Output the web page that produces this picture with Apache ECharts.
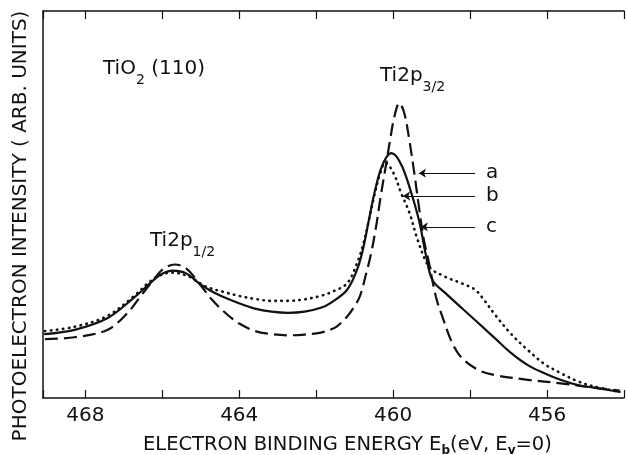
<!DOCTYPE html>
<html>
<head>
<meta charset="utf-8">
<script src="https://cdn.jsdelivr.net/npm/echarts@6/dist/echarts.min.js"></script>
<style>
html, body { margin: 0; padding: 0; background: #fff; }
#chart { width: 627px; height: 455px; }
</style>
</head>
<body>
<div id="chart"></div>
<script>
// [binding energy (eV), intensity (arb. units, 0 = frame bottom, 100 = frame top)]
const curveA = [ // dashed
    [469.05, 15.2], [468.28, 15.7], [467.43, 17.6], [466.91, 21.9], [466.57, 26.2], [466.23, 30.5],
    [465.98, 33.3], [465.68, 34.5], [465.38, 33.5], [465.04, 29.6], [464.70, 25.3], [464.35, 21.9],
    [464.01, 19.3], [463.59, 17.3], [463.16, 16.5], [462.73, 16.2], [462.30, 16.4], [461.88, 16.9],
    [461.62, 17.7], [461.45, 18.6], [461.20, 21.0], [461.03, 23.3], [460.86, 26.4], [460.71, 31.8],
    [460.58, 37.0], [460.45, 43.9], [460.33, 51.7], [460.20, 59.4], [460.07, 67.2], [459.97, 72.6],
    [459.84, 76.2], [459.71, 73.6], [459.58, 66.7], [459.45, 58.1], [459.33, 49.4], [459.20, 40.8],
    [459.08, 35.5], [458.89, 26.2], [458.72, 21.0], [458.46, 14.1], [458.21, 10.3], [457.78, 7.2],
    [457.35, 5.9], [456.50, 4.7], [455.65, 3.8], [454.97, 2.9], [454.11, 1.9]
]
const curveB = [ // dotted
    [469.05, 17.3], [468.28, 18.4], [467.43, 21.2], [466.75, 26.2], [466.32, 30.1], [465.98, 32.0],
    [465.72, 32.4], [465.29, 31.3], [464.87, 28.8], [464.44, 27.5], [464.01, 26.4], [463.59, 25.6],
    [463.16, 25.1], [462.73, 25.1], [462.30, 25.5], [461.88, 26.4], [461.62, 27.3], [461.20, 29.6],
    [460.94, 34.8], [460.77, 40.0], [460.63, 46.0], [460.48, 52.7], [460.35, 57.6], [460.20, 60.8],
    [459.99, 58.1], [459.79, 52.9], [459.57, 47.7], [459.36, 40.8], [459.06, 33.9], [458.64, 31.3],
    [458.21, 29.6], [457.87, 28.0], [457.65, 25.5], [457.35, 21.5], [456.93, 16.5], [456.50, 12.4],
    [456.07, 8.8], [455.64, 6.4], [455.22, 4.4], [454.79, 3.0], [454.11, 1.6]
]
const curveC = [ // solid
    [469.05, 16.5], [468.28, 17.6], [467.43, 20.6], [466.75, 25.8], [466.32, 29.6], [466.06, 31.8],
    [465.72, 32.9], [465.38, 32.2], [465.04, 29.6], [464.78, 27.9], [464.44, 26.2], [464.01, 24.5],
    [463.59, 23.1], [463.16, 22.3], [462.73, 22.0], [462.30, 22.3], [461.88, 23.3], [461.62, 24.6],
    [461.20, 27.9], [460.94, 33.1], [460.79, 38.2], [460.63, 46.0], [460.48, 53.2], [460.33, 58.9],
    [460.17, 62.3], [460.04, 63.3], [459.92, 62.5], [459.76, 59.7], [459.61, 55.6], [459.45, 50.4],
    [459.30, 44.7], [459.15, 37.0], [458.98, 30.5], [458.64, 27.1], [458.21, 23.2], [457.78, 19.3],
    [457.35, 15.4], [456.93, 11.6], [456.50, 8.5], [456.07, 6.4], [455.65, 4.7], [455.22, 3.4],
    [454.79, 2.7], [454.11, 1.6]
]
const xTickLabels = [468, 464, 460, 456]
// pointer lines for the a / b / c labels: [from energy, to energy, intensity]
const pointers = [[457.87, 459.33, 58.1], [457.87, 459.74, 52.2], [457.87, 459.28, 44.2]]

const FONT = 'DejaVu Sans'
const INK = '#111'

const chart = echarts.init(document.getElementById('chart'))

const axisBase = {
    type: 'value',
    inverse: true,
    min: 454,
    max: 469.1,
    interval: 2,
    axisLine: { show: true, onZero: false, lineStyle: { color: INK, width: 1.5 } },
    axisTick: { show: true, inside: true, length: 8, lineStyle: { color: INK, width: 1.2 } },
    splitLine: { show: false }
}

const lineSeries = function(name, data, type, width){
    return {
        name: name,
        type: 'line',
        data: data,
        symbol: 'none',
        smooth: 0.35,
        lineStyle: { color: INK, width: width, type: type, cap: 'round' },
        silent: true
    }
}

const seriesA = lineSeries('a', curveA, [13, 6], 2.2)
seriesA.lineStyle.cap = 'butt'
seriesA.markLine = {
    silent: true,
    symbol: ['none', 'arrow'],
    symbolSize: 7,
    label: { show: false },
    lineStyle: { color: INK, width: 1, type: 'solid' },
    data: pointers.map(p => [{ coord: [p[0], p[2]] }, { coord: [p[1], p[2]] }])
}

// text with a dropped, smaller subscript
const labelRich = {
    m: { fontSize: 20, fontFamily: FONT, color: INK, lineHeight: 28, verticalAlign: 'top' },
    s: { fontSize: 14, fontFamily: FONT, color: INK, lineHeight: 12, verticalAlign: 'bottom' }
}
const label = function(x, y, text){
    return { type: 'text', x: x, y: y, style: { text: text, rich: labelRich, fill: INK, align: 'left', verticalAlign: 'top' } }
}

chart.setOption({
    animation: false,
    backgroundColor: '#ffffff',
    grid: { left: 43, top: 11, width: 590, height: 387 },
    xAxis: [
        Object.assign({}, axisBase, {
            position: 'bottom',
            axisLabel: {
                margin: 8,
                fontSize: 20,
                fontFamily: FONT,
                color: INK,
                formatter: v => (xTickLabels.indexOf(v) >= 0 ? String(v) : '')
            }
        }),
        Object.assign({}, axisBase, { position: 'top', axisLabel: { show: false } })
    ],
    yAxis: {
        type: 'value',
        min: 0,
        max: 100,
        axisLine: { show: true, lineStyle: { color: INK, width: 1.5 } },
        axisTick: { show: false },
        axisLabel: { show: false },
        splitLine: { show: false }
    },
    series: [
        seriesA,
        lineSeries('b', curveB, [0.5, 5.5], 2.6),
        lineSeries('c', curveC, 'solid', 2.2)
    ],
    graphic: [
        {
            type: 'text', x: 143, y: 445,
            style: {
                text: '{m|ELECTRON BINDING ENERGY E}{s|b}{m|(eV, E}{s|v}{m|=0)}',
                align: 'left', verticalAlign: 'middle', fill: INK,
                rich: {
                    m: { fontSize: 19.5, fontFamily: FONT, color: INK, lineHeight: 24 },
                    s: { fontSize: 12, fontFamily: FONT, color: INK, fontWeight: 'bold', lineHeight: 14, verticalAlign: 'bottom' }
                }
            }
        },
        {
            type: 'text', x: 21, y: 226, rotation: Math.PI / 2,
            style: { text: 'PHOTOELECTRON INTENSITY ( ARB. UNITS)', fontSize: 20, fontFamily: FONT, fill: INK, align: 'center', verticalAlign: 'middle' }
        },
        label(103, 59, '{m|TiO}{s|2}{m| (110)}'),
        label(150, 231, '{m|Ti2p}{s|1/2}'),
        label(380, 66, '{m|Ti2p}{s|3/2}'),
        label(486, 163, '{m|a}'),
        label(486, 186, '{m|b}'),
        label(486, 217, '{m|c}')
    ]
})
</script>
</body>
</html>
